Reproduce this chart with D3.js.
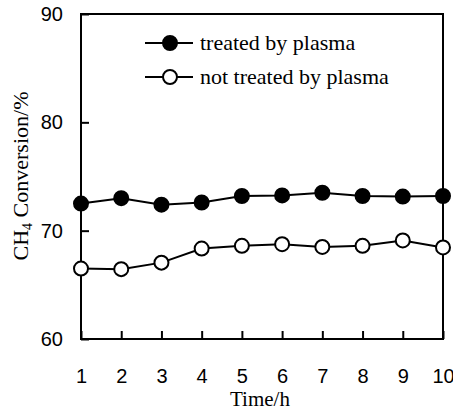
<!DOCTYPE html>
<html>
<head>
  <meta charset="utf-8">
  <script src="https://cdn.jsdelivr.net/npm/d3@7/dist/d3.min.js"></script>
  <style>
    body { margin: 0; background: #fff; }
  </style>
</head>
<body>
<svg width="453" height="411"></svg>
<script>
  const hours = [1, 2, 3, 4, 5, 6, 7, 8, 9, 10];
  const treated = [72.5, 73.0, 72.4, 72.6, 73.2, 73.25, 73.5, 73.2, 73.15, 73.2];
  const notTreated = [66.5, 66.45, 67.05, 68.35, 68.6, 68.75, 68.5, 68.6, 69.1, 68.45];
  const yTicks = [60, 70, 80, 90];
  const seriesNames = ['treated by plasma', 'not treated by plasma'];

  const SANS = '"Liberation Sans", Arial, sans-serif';
  const SERIF = '"Liberation Serif", "Times New Roman", serif';

  const svg = d3.select('svg');
  const m = {left: 81, right: 443, top: 14, bottom: 339};

  const x = d3.scaleLinear().domain([1, 10]).range([m.left, m.right]);
  const y = d3.scaleLinear().domain([60, 90]).range([m.bottom, m.top]);

  // frame
  svg.append('rect')
    .attr('x', m.left).attr('y', m.top)
    .attr('width', m.right - m.left).attr('height', m.bottom - m.top)
    .attr('fill', 'none').attr('stroke', '#000').attr('stroke-width', 2);

  // x axis, ticks pointing in
  const xAxis = svg.append('g')
    .attr('transform', `translate(0,${m.bottom})`)
    .call(d3.axisBottom(x).tickValues(hours).tickSize(-8).tickPadding(30).tickFormat(d3.format('d')));
  xAxis.select('.domain').remove();
  xAxis.selectAll('line').attr('stroke-width', 2);

  // y axis
  const yAxis = svg.append('g')
    .attr('transform', `translate(${m.left},0)`)
    .call(d3.axisLeft(y).tickValues(yTicks).tickSize(-8).tickPadding(18));
  yAxis.select('.domain').remove();
  yAxis.selectAll('line').attr('stroke-width', 2);

  svg.selectAll('.tick text')
    .attr('font-family', SANS).attr('font-size', 20).attr('fill', '#000');

  // axis titles
  svg.append('text')
    .attr('font-family', SERIF)
    .attr('x', 260).attr('y', 406)
    .attr('text-anchor', 'middle').attr('font-size', 21)
    .text('Time/h');

  const yt = svg.append('text')
    .attr('font-family', SERIF)
    .attr('transform', 'translate(28,176) rotate(-90)')
    .attr('text-anchor', 'middle').attr('font-size', 22);
  yt.append('tspan').text('CH');
  yt.append('tspan').attr('font-size', 14).attr('dy', 4).text('4');
  yt.append('tspan').attr('dy', -4).text(' Conversion/%');

  const line = d3.line().x((d, i) => x(hours[i])).y(d => y(d));
  const series = [
    {values: treated, fill: '#000'},
    {values: notTreated, fill: '#fff'}
  ];

  series.forEach(s => {
    svg.append('path')
      .attr('d', line(s.values))
      .attr('fill', 'none').attr('stroke', '#000').attr('stroke-width', 2);
    svg.selectAll(null).data(s.values).enter().append('circle')
      .attr('cx', (d, i) => x(hours[i])).attr('cy', d => y(d))
      .attr('r', 7).attr('fill', s.fill)
      .attr('stroke', '#000').attr('stroke-width', 2);
  });

  // legend
  const lg = svg.append('g');
  series.forEach((s, i) => {
    const ly = 43 + i * 34;
    lg.append('line').attr('x1', 145).attr('x2', 193).attr('y1', ly).attr('y2', ly)
      .attr('stroke', '#000').attr('stroke-width', 2);
    lg.append('circle').attr('cx', 170).attr('cy', ly).attr('r', 7)
      .attr('fill', s.fill).attr('stroke', '#000').attr('stroke-width', 2);
    lg.append('text')
      .attr('font-family', SERIF)
      .attr('x', 200).attr('y', ly + 7).attr('font-size', 22)
      .text(seriesNames[i]);
  });
</script>
</body>
</html>
